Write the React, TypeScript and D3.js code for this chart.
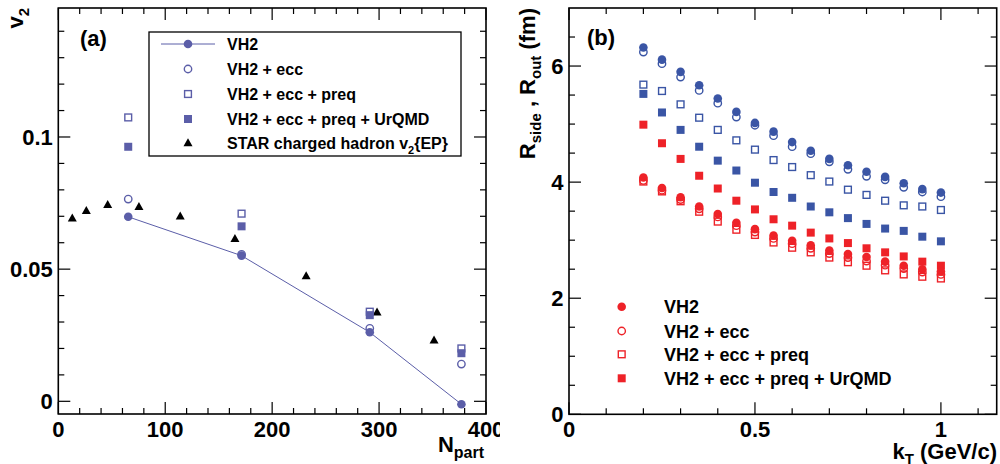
import React from "react";
import * as d3 from "d3";

// ---------- Panel (a) data ----------
const NPART_MODEL = [65.4, 171.4, 291.3, 377];
const V2_VH2 = [0.0698, 0.0551, 0.0261, -0.0011];
const V2_ECC = [0.0765, 0.0556, 0.0276, 0.0141];
const V2_PREQ = [0.1074, 0.071, 0.0339, 0.02];
const V2_URQMD = [0.0963, 0.0662, 0.0326, 0.0182];
const STAR_NPART = [13.1, 26.2, 46.2, 75.4, 114, 165.2, 231.8, 298.1, 351.4];
const STAR_V2 = [0.0692, 0.0721, 0.0743, 0.0736, 0.07, 0.0615, 0.0474, 0.0337, 0.0231];

const A_X_MAJOR = [0, 100, 200, 300, 400];
const A_X_LABELS = ["0", "100", "200", "300", "400"];
const A_Y_MAJOR = [0, 0.05, 0.1];
const A_Y_LABELS = ["0", "0.05", "0.1"];

// ---------- Panel (b) data ----------
const KT = [0.2, 0.25, 0.3, 0.35, 0.4, 0.45, 0.5, 0.55, 0.6, 0.65, 0.7, 0.75, 0.8, 0.85, 0.9, 0.95, 1.0];
const ROUT_VH2 = [6.32, 6.11, 5.9, 5.67, 5.44, 5.21, 5.02, 4.87, 4.69, 4.54, 4.4, 4.29, 4.18, 4.09, 3.98, 3.88, 3.82];
const ROUT_ECC = [6.24, 6.04, 5.81, 5.58, 5.36, 5.12, 4.98, 4.8, 4.61, 4.49, 4.35, 4.22, 4.1, 4.04, 3.91, 3.83, 3.75];
const ROUT_PREQ = [5.68, 5.57, 5.34, 5.11, 4.9, 4.72, 4.56, 4.38, 4.26, 4.12, 4.01, 3.87, 3.78, 3.68, 3.6, 3.58, 3.52];
const ROUT_URQMD = [5.52, 5.2, 4.9, 4.61, 4.37, 4.2, 3.99, 3.83, 3.73, 3.58, 3.48, 3.38, 3.28, 3.2, 3.16, 3.06, 2.98];
const RSIDE_VH2 = [4.08, 3.9, 3.74, 3.58, 3.45, 3.3, 3.19, 3.08, 2.99, 2.91, 2.82, 2.76, 2.71, 2.63, 2.56, 2.5, 2.46];
const RSIDE_ECC = [4.03, 3.86, 3.7, 3.54, 3.4, 3.25, 3.14, 3.03, 2.94, 2.86, 2.77, 2.7, 2.64, 2.57, 2.51, 2.45, 2.41];
const RSIDE_PREQ = [4.01, 3.84, 3.67, 3.49, 3.32, 3.18, 3.09, 2.96, 2.87, 2.79, 2.7, 2.62, 2.56, 2.48, 2.41, 2.37, 2.34];
const RSIDE_URQMD = [4.99, 4.67, 4.4, 4.11, 3.89, 3.68, 3.53, 3.36, 3.25, 3.13, 3.03, 2.95, 2.86, 2.79, 2.72, 2.63, 2.56];

const B_X_MAJOR = [0, 0.5, 1];
const B_X_LABELS = ["0", "0.5", "1"];
const B_Y_MAJOR = [0, 2, 4, 6];
const B_Y_LABELS = ["0", "2", "4", "6"];

const LEG_A = ["VH2", "VH2 + ecc", "VH2 + ecc + preq", "VH2 + ecc + preq + UrQMD"];
const LEG_B = ["VH2", "VH2 + ecc", "VH2 + ecc + preq", "VH2 + ecc + preq + UrQMD"];

const FONT = "'Liberation Sans', Arial, Helvetica, sans-serif";
const PURPLE = "#5b5ea8";
const BLUE = "#3a55a5";
const RED = "#ee2228";

type MarkerKind = "fcircle" | "ocircle" | "osquare" | "fsquare" | "triangle";

function Marker({ kind, x, y, color, s = 4 }: { kind: MarkerKind; x: number; y: number; color: string; s?: number }) {
  switch (kind) {
    case "fcircle":
      return <circle cx={x} cy={y} r={s + 0.3} fill={color} />;
    case "ocircle":
      return <circle cx={x} cy={y} r={s - 0.3} fill="none" stroke={color} strokeWidth={1.4} />;
    case "osquare":
      return <rect x={x - s + 0.6} y={y - s + 0.6} width={2 * s - 1.2} height={2 * s - 1.2} fill="none" stroke={color} strokeWidth={1.4} />;
    case "fsquare":
      return <rect x={x - s} y={y - s} width={2 * s} height={2 * s} fill={color} />;
    case "triangle":
      return <path d={`M${x},${y - 4.8}L${x + 4.5},${y + 3.2}L${x - 4.5},${y + 3.2}Z`} fill="#000" />;
  }
  return null;
}

function Frame({ x, y, xMajor, xMinor, yMajor, yMinor, xLabels, yLabels, labelXOffset }: any) {
  const [x0, x1] = x.range();
  const [y0, y1] = y.range(); // y0 bottom, y1 top
  const MJ = 12;
  const MN = 6;
  const lines: any[] = [];
  xMajor.forEach((v: number, i: number) => {
    const px = x(v);
    lines.push(<line key={`xb${i}`} x1={px} x2={px} y1={y0} y2={y0 - MJ} />);
    lines.push(<line key={`xt${i}`} x1={px} x2={px} y1={y1} y2={y1 + MJ} />);
  });
  xMinor.forEach((v: number, i: number) => {
    const px = x(v);
    lines.push(<line key={`xbm${i}`} x1={px} x2={px} y1={y0} y2={y0 - MN} />);
    lines.push(<line key={`xtm${i}`} x1={px} x2={px} y1={y1} y2={y1 + MN} />);
  });
  yMajor.forEach((v: number, i: number) => {
    const py = y(v);
    lines.push(<line key={`yl${i}`} x1={x0} x2={x0 + MJ} y1={py} y2={py} />);
    lines.push(<line key={`yr${i}`} x1={x1} x2={x1 - MJ} y1={py} y2={py} />);
  });
  yMinor.forEach((v: number, i: number) => {
    const py = y(v);
    lines.push(<line key={`ylm${i}`} x1={x0} x2={x0 + MN} y1={py} y2={py} />);
    lines.push(<line key={`yrm${i}`} x1={x1} x2={x1 - MN} y1={py} y2={py} />);
  });
  return (
    <g>
      <g stroke="#000" strokeWidth={1.2}>{lines}</g>
      <rect x={x0} y={y1} width={x1 - x0} height={y0 - y1} fill="none" stroke="#000" strokeWidth={1.6} />
      <g fontFamily={FONT} fontWeight="bold" fontSize={22} fill="#000">
        {xMajor.map((v: number, i: number) => (
          <text key={`xl${i}`} x={x(v)} y={437} textAnchor="middle">{xLabels[i]}</text>
        ))}
        {yMajor.map((v: number, i: number) => (
          <text key={`yl${i}`} x={x0 - labelXOffset} y={y(v) + 8} textAnchor="end">{yLabels[i]}</text>
        ))}
      </g>
    </g>
  );
}

function PanelA() {
  const x = d3.scaleLinear().domain([0, 400]).range([58.3, 486]);
  const y = d3.scaleLinear().domain([-0.0048, 0.1488]).range([414, 8]);
  const xMinor = d3.range(20, 400, 20).filter((v) => v % 100 !== 0);
  const yMinor = d3.range(0.01, 0.145, 0.01).filter((v) => Math.abs(v / 0.05 - Math.round(v / 0.05)) > 1e-6);
  const line = d3.line<number>().x((_, i) => x(NPART_MODEL[i])).y((d) => y(d));
  const series: [MarkerKind, number[]][] = [
    ["ocircle", V2_ECC],
    ["osquare", V2_PREQ],
    ["fsquare", V2_URQMD],
  ];
  const legY = [44, 69, 94, 119, 143];
  return (
    <g>
      <defs>
        <clipPath id="clipA"><rect x={0} y={0} width={500} height={464} /></clipPath>
      </defs>
      <g clipPath="url(#clipA)">
        <Frame x={x} y={y} xMajor={A_X_MAJOR} xMinor={xMinor} yMajor={A_Y_MAJOR} yMinor={yMinor}
          xLabels={A_X_LABELS} yLabels={A_Y_LABELS} labelXOffset={5.5} />
        <path d={line(V2_VH2) || ""} fill="none" stroke={PURPLE} strokeWidth={1} />
        {STAR_NPART.map((n, i) => (
          <Marker key={`s${i}`} kind="triangle" x={x(n)} y={y(STAR_V2[i])} color="#000" />
        ))}
        {V2_VH2.map((v, i) => (
          <Marker key={`v${i}`} kind="fcircle" x={x(NPART_MODEL[i])} y={y(v)} color={PURPLE} />
        ))}
        {series.map(([k, vals], si) =>
          vals.map((v, i) => <Marker key={`m${si}-${i}`} kind={k} x={x(NPART_MODEL[i])} y={y(v)} color={PURPLE} />)
        )}
        {/* legend */}
        <rect x={149} y={32} width={312} height={124} fill="#fff" stroke="#000" strokeWidth={1.3} />
        <line x1={161} x2={215} y1={legY[0]} y2={legY[0]} stroke={PURPLE} strokeWidth={1} />
        <Marker kind="fcircle" x={188} y={legY[0]} color={PURPLE} />
        <Marker kind="ocircle" x={188} y={legY[1]} color={PURPLE} />
        <Marker kind="osquare" x={188} y={legY[2]} color={PURPLE} />
        <Marker kind="fsquare" x={188} y={legY[3]} color={PURPLE} />
        <Marker kind="triangle" x={188} y={legY[4]} color="#000" />
        <g fontFamily={FONT} fontWeight="bold" fontSize={16} fill="#000">
          {LEG_A.map((t, i) => (
            <text key={t} x={227} y={legY[i] + 6}>{t}</text>
          ))}
          <text x={227} y={legY[4] + 6}>
            STAR charged hadron v<tspan fontSize={11} dy={5}>2</tspan><tspan dy={-5}>{"{EP}"}</tspan>
          </text>
        </g>
        <g fontFamily={FONT} fontWeight="bold" fill="#000">
          <text x={80} y={46} fontSize={22}>(a)</text>
          <text transform="translate(22.5,8) rotate(-90)" textAnchor="end" fontSize={22}>
            v<tspan fontSize={15} dy={6}>2</tspan>
          </text>
          <text x={484} y={452} textAnchor="end" fontSize={22}>
            N<tspan fontSize={16} dy={6}>part</tspan>
          </text>
        </g>
      </g>
    </g>
  );
}

function PanelB() {
  const x = d3.scaleLinear().domain([0, 1.15]).range([569, 996.7]);
  const y = d3.scaleLinear().domain([0, 7]).range([414.3, 8]);
  const xMinor = d3.range(0.1, 1.15, 0.1).filter((v) => Math.abs(v * 2 - Math.round(v * 2)) > 1e-6);
  const yMinor = d3.range(0.5, 7, 0.5).filter((v) => Math.abs(v / 2 - Math.round(v / 2)) > 1e-6);
  const series: [MarkerKind, number[], string][] = [
    ["fsquare", ROUT_URQMD, BLUE],
    ["osquare", ROUT_PREQ, BLUE],
    ["ocircle", ROUT_ECC, BLUE],
    ["fcircle", ROUT_VH2, BLUE],
    ["fsquare", RSIDE_URQMD, RED],
    ["osquare", RSIDE_PREQ, RED],
    ["ocircle", RSIDE_ECC, RED],
    ["fcircle", RSIDE_VH2, RED],
  ];
  const legY = [306.7, 331, 354.3, 378.3];
  const legKinds: MarkerKind[] = ["fcircle", "ocircle", "osquare", "fsquare"];
  return (
    <g>
      <defs>
        <clipPath id="clipB"><rect x={500} y={0} width={500} height={464} /></clipPath>
      </defs>
      <g clipPath="url(#clipB)">
        <rect x={500} y={0} width={500} height={464} fill="#fff" />
        <Frame x={x} y={y} xMajor={B_X_MAJOR} xMinor={xMinor} yMajor={B_Y_MAJOR} yMinor={yMinor}
          xLabels={B_X_LABELS} yLabels={B_Y_LABELS} labelXOffset={5.5} />
        {series.map(([k, vals, c], si) =>
          vals.map((v, i) => <Marker key={`b${si}-${i}`} kind={k} x={x(KT[i])} y={y(v)} color={c} />)
        )}
        {LEG_B.map((t, i) => (
          <Marker key={`lm${i}`} kind={legKinds[i]} x={621.7} y={legY[i]} color={RED} />
        ))}
        <g fontFamily={FONT} fontWeight="bold" fontSize={18} fill="#000">
          {LEG_B.map((t, i) => (
            <text key={t} x={664} y={legY[i] + 6.5}>{t}</text>
          ))}
        </g>
        <g fontFamily={FONT} fontWeight="bold" fill="#000">
          <text x={587} y={45} fontSize={22}>(b)</text>
          <text transform="translate(535,8) rotate(-90)" textAnchor="end" fontSize={22}>
            R<tspan fontSize={15} dy={6}>side</tspan>
            <tspan dy={-6}> , R</tspan>
            <tspan fontSize={15} dy={6}>out</tspan>
            <tspan dy={-6}> (fm)</tspan>
          </text>
          <text x={997} y={459} textAnchor="end" fontSize={22}>
            k<tspan fontSize={15} dy={5}>T</tspan><tspan dy={-5}> (GeV/c)</tspan>
          </text>
        </g>
      </g>
    </g>
  );
}

export default function App() {
  return (
    <div style={{ position: "fixed", left: 0, top: 0, width: 1000, height: 464, background: "#fff" }}>
      <svg width={1000} height={464} viewBox="0 0 1000 464" style={{ display: "block" }}>
        <rect x={0} y={0} width={1000} height={464} fill="#fff" />
        <PanelA />
        <PanelB />
      </svg>
    </div>
  );
}
